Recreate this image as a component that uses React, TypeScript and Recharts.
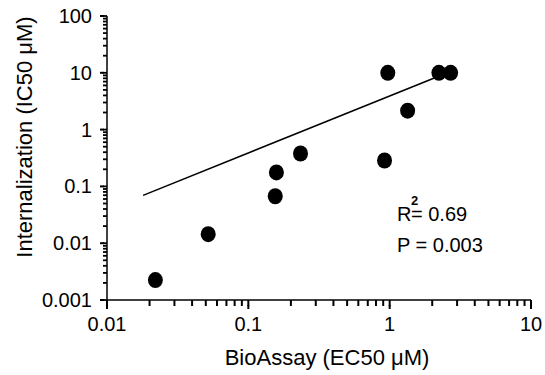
import React from 'react';
import {
  ScatterChart,
  Scatter,
  XAxis,
  YAxis,
  ReferenceLine,
} from 'recharts';

// measured points: BioAssay EC50 (x) vs Internalization IC50 (y), both in uM
const bioAssay = [0.022, 0.052, 0.155, 0.158, 0.234, 0.92, 0.97, 1.34, 2.23, 2.7];
const internalization = [0.00224, 0.0144, 0.067, 0.176, 0.38, 0.286, 10, 2.15, 10, 10];

// regression line end points
const fitX = [0.018, 2.2];
const fitY = [0.0695, 8.6];

const xMajor = [0.01, 0.1, 1, 10];
const yMajor = [0.001, 0.01, 0.1, 1, 10, 100];
const xLabels = ['0.01', '0.1', '1', '10'];
const yLabels = ['0.001', '0.01', '0.1', '1', '10', '100'];
const minorSteps = [2, 3, 4, 5, 6, 7, 8, 9];

const withMinor = (majors: number[]) => {
  const out: number[] = [];
  majors.forEach((m, i) => {
    out.push(m);
    if (i < majors.length - 1) minorSteps.forEach((s) => out.push(+(m * s).toPrecision(3)));
  });
  return out;
};

const xTicks = withMinor(xMajor);
const yTicks = withMinor(yMajor);

const points = bioAssay.map((x, i) => ({ x, y: internalization[i] }));

const FONT = '"Liberation Sans", Arial, sans-serif';

// recharts draws the short (minor) tick line; majors get an extra bit + label here
const XTick = (props: any) => {
  const { x, y, payload } = props;
  const idx = xMajor.indexOf(payload.value);
  if (idx < 0) return <g />;
  return (
    <g>
      <rect x={x - 1} y={y - 1} width={2} height={4} fill="#000" />
      <text x={x} y={y + 25} textAnchor="middle" fontSize={20} fontFamily={FONT} fill="#000">
        {xLabels[idx]}
      </text>
    </g>
  );
};

const YTick = (props: any) => {
  const { x, y, payload } = props;
  const idx = yMajor.indexOf(payload.value);
  if (idx < 0) return <g />;
  return (
    <g>
      <rect x={x - 3} y={y - 1} width={4} height={2} fill="#000" />
      <text x={x - 11} y={y + 7} textAnchor="end" fontSize={20} fontFamily={FONT} fill="#000">
        {yLabels[idx]}
      </text>
    </g>
  );
};

const Dot = (props: any) => <ellipse cx={props.cx} cy={props.cy} rx={7.5} ry={8} fill="#000" />;

// x title plus the R² / P note
const XTitle = (p: any) => (
  <g fontFamily={FONT} fill="#000">
    <text x={p.viewBox.x + p.viewBox.width / 2 + 8} y={p.viewBox.y + 65} textAnchor="middle" fontSize={22}>
      BioAssay (EC50 μM)
    </text>
    <text x={397} y={221} fontSize={20}>R</text>
    <text x={411} y={205} fontSize={13} fontWeight="bold">2</text>
    <text x={411} y={221} fontSize={20}>= 0.69</text>
    <text x={397} y={252} fontSize={20}>P = 0.003</text>
  </g>
);

const YTitle = () => (
  <text
    x={32}
    y={137}
    transform="rotate(-90, 32, 137)"
    textAnchor="middle"
    fontSize={22}
    fontFamily={FONT}
    fill="#000"
  >
    Internalization (IC50 μM)
  </text>
);

export default function App() {
  return (
    <div style={{ position: 'absolute', left: 0, top: 0, width: 545, height: 375, background: '#fff' }}>
      <ScatterChart width={545} height={375} margin={{ top: 16, right: 14, left: 0, bottom: 0 }}>
        <XAxis
          type="number"
          dataKey="x"
          scale="log"
          domain={[0.01, 10]}
          allowDataOverflow
          ticks={xTicks}
          interval={0}
          tick={<XTick />}
          tickLine={{ stroke: '#000', strokeWidth: 2 }}
          tickSize={6}
          tickMargin={0}
          height={75}
          axisLine={{ stroke: '#000', strokeWidth: 1.5 }}
          label={{ content: XTitle }}
        />
        <YAxis
          type="number"
          dataKey="y"
          scale="log"
          domain={[0.001, 100]}
          allowDataOverflow
          ticks={yTicks}
          interval={0}
          tick={<YTick />}
          tickLine={{ stroke: '#000', strokeWidth: 1.8 }}
          tickSize={4}
          tickMargin={0}
          width={107}
          axisLine={{ stroke: '#000', strokeWidth: 1.5 }}
          label={{ content: YTitle }}
        />
        <ReferenceLine
          segment={[
            { x: fitX[0], y: fitY[0] },
            { x: fitX[1], y: fitY[1] },
          ]}
          stroke="#000"
          strokeWidth={1.5}
        />
        <Scatter data={points} shape={<Dot />} isAnimationActive={false} />
      </ScatterChart>
    </div>
  );
}
